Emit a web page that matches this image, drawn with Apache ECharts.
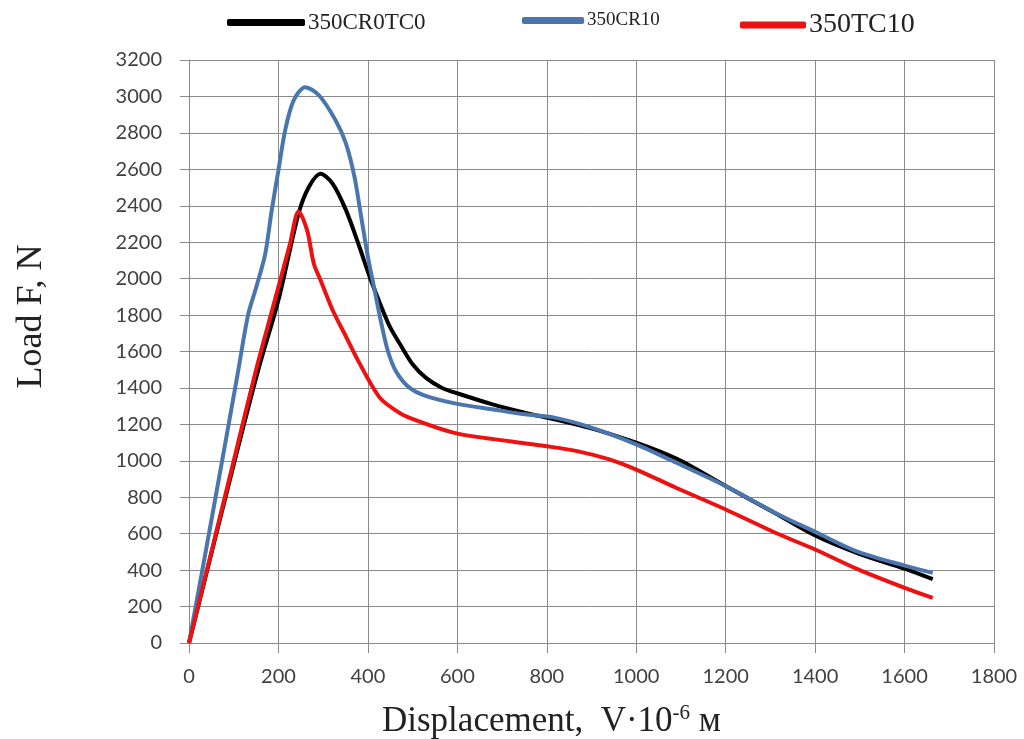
<!DOCTYPE html>
<html>
<head>
<meta charset="utf-8">
<script src="https://cdn.jsdelivr.net/npm/echarts@6/dist/echarts.min.js"></script>
<style>
html,body{margin:0;padding:0;background:#fff;}
#main{width:1024px;height:739px;}
</style>
</head>
<body>
<div id="main"></div>
<script>
var seriesNames = ['350CR0TC0', '350CR10', '350TC10'];
var xTicks = [0, 200, 400, 600, 800, 1000, 1200, 1400, 1600, 1800];
var yTicks = [0, 200, 400, 600, 800, 1000, 1200, 1400, 1600, 1800, 2000, 2200, 2400, 2600, 2800, 3000, 3200];

// displacement, load
var cr0tc0 = [[0,0],[100,980],[155,1500],[200,1882],[245,2357],[268,2503],[294,2576],[321,2522],
    [351,2376],[381,2175],[404,2010],[427,1864],[449,1736],[472,1640],[500,1530],[530,1455],
    [566,1400],[603,1368],[677,1311],[751,1264],[817,1228],[900,1178],[1000,1100],[1052,1052],
    [1100,1000],[1200,862],[1311,712],[1400,590],[1500,488],[1600,408],[1663,350]];
var cr10 = [[0,0],[55,740],[109,1480],[132,1800],[150,1950],[170,2130],[185,2376],[200,2595],
    [215,2814],[234,2978],[260,3051],[291,3005],[328,2868],[351,2741],[370,2558],[385,2339],
    [400,2120],[415,1937],[430,1755],[445,1600],[463,1490],[492,1403],[529,1357],[603,1311],
    [677,1283],[751,1255],[817,1237],[900,1182],[1000,1090],[1074,1007],[1200,861],[1311,714],
    [1400,610],[1496,500],[1600,425],[1663,385]];
var tc10 = [[0,0],[100,1000],[150,1500],[192,1882],[226,2193],[245,2369],[264,2266],[279,2083],
    [294,1992],[321,1828],[351,1682],[382,1532],[426,1348],[460,1280],[492,1237],[596,1152],
    [722,1106],[800,1080],[870,1052],[940,1008],[1000,952],[1089,852],[1200,733],[1311,605],
    [1400,513],[1496,404],[1600,303],[1663,248]];

var colors = ['#000000', '#4b76ad', '#ee1111'];
var gridColor = '#8a8a8a';

function legendAt(left, name, size, w) {
    return {
        top: 6,
        left: left,
        data: [{name: name, textStyle: {fontSize: size}}],
        icon: 'roundRect',
        itemWidth: w,
        itemHeight: 7,
        itemGap: 2,
        textStyle: {fontFamily: 'Liberation Serif', color: '#222', padding: [0,0,0,-2]}
    };
}

var option = {
    animation: false,
    color: colors,
    legend: [
        legendAt(222, seriesNames[0], 23, 78),
        legendAt(517, seriesNames[1], 19, 62),
        legendAt(735, seriesNames[2], 28, 66)
    ],
    grid: {left: 189, right: 30, top: 60, bottom: 96, outerBoundsMode: 'none'},
    xAxis: {
        type: 'value',
        min: 0, max: 1800, interval: 200,
        name: '{a|Displacement,  V·10}{s|-6}{a| м}',
        nameLocation: 'middle',
        nameGap: 60,
        nameTextStyle: {
            padding: [0, 80, 0, 0],
            rich: {
                a: {fontFamily: 'Liberation Serif', fontSize: 35, color: '#222'},
                s: {fontFamily: 'Liberation Serif', fontSize: 21, color: '#222', verticalAlign: 'top', padding: [0,0,16,0]}
            }
        },
        axisLine: {lineStyle: {color: gridColor}},
        axisTick: {show: true, length: 10, lineStyle: {color: gridColor}},
        axisLabel: {fontFamily: 'Lato', fontSize: 20, color: '#404040', margin: 24,
            formatter: function (v) { return String(v); }},
        splitLine: {show: true, lineStyle: {color: gridColor, width: 1}}
    },
    yAxis: {
        type: 'value',
        min: 0, max: 3200, interval: 200,
        name: 'Load F, N',
        nameLocation: 'middle',
        nameGap: 139,
        nameTextStyle: {fontFamily: 'Liberation Serif', fontSize: 36, color: '#222', padding: [0, 0, 0, 70]},
        axisLine: {show: true, lineStyle: {color: gridColor}},
        axisTick: {show: true, length: 9, lineStyle: {color: gridColor}},
        axisLabel: {fontFamily: 'Lato', fontSize: 20, color: '#404040', margin: 27,
            formatter: function (v) { return String(v); }},
        splitLine: {show: true, lineStyle: {color: gridColor, width: 1}}
    },
    series: [
        {name: seriesNames[0], type: 'line', data: cr0tc0, smooth: 0.3, showSymbol: false, lineStyle: {width: 4, color: colors[0]}, z: 3},
        {name: seriesNames[1], type: 'line', data: cr10, smooth: 0.3, showSymbol: false, lineStyle: {width: 4, color: colors[1]}, z: 4},
        {name: seriesNames[2], type: 'line', data: tc10, smooth: 0.3, showSymbol: false, lineStyle: {width: 4, color: colors[2]}, z: 5}
    ]
};

var myChart = echarts.init(document.getElementById('main'));
myChart.setOption(option);
</script>
</body>
</html>
